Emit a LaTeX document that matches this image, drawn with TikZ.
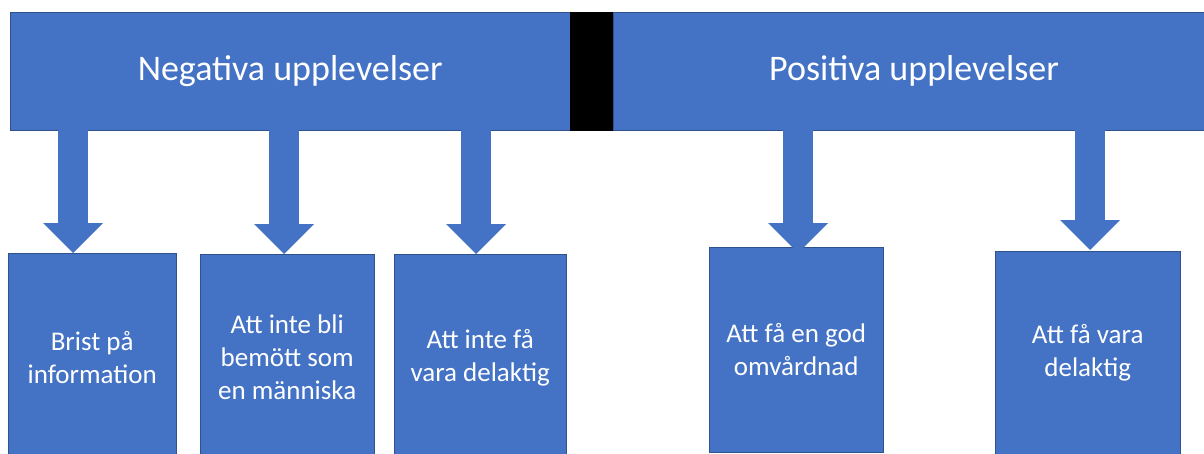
\documentclass[tikz,border=0pt]{standalone}
\usepackage{fontspec}
\setmainfont{Carlito}
\usetikzlibrary{arrows.meta,positioning,calc}
\definecolor{boxblue}{RGB}{68,114,196}
\definecolor{lineblue}{RGB}{47,82,143}

\begin{document}
\begin{tikzpicture}[x=1pt,y=-1pt,% one unit = one pixel of the page, y runs down
					every node/.style={
						align=center,		% so that "\\" breaks the lines
						text=white,
						inner sep=0pt
						},
					bar/.style={rectangle,draw=lineblue,fill=boxblue,minimum height=118pt,font=\fontsize{36}{43}\selectfont},
					theme/.style={rectangle,draw=lineblue,fill=boxblue,anchor=north west,font=\fontsize{27}{33}\selectfont},
					every edge/.style={draw=boxblue,line width=30pt,-{Triangle[width=60pt,length=30pt,line width=0pt]}}
					]
\useasboundingbox (0,0) rectangle (1204,453);
\clip (0,0) rectangle (1204,453);
\fill[white] (0,0) rectangle (1204,453);
% headings
\node[bar,minimum width=560pt,anchor=north west](Neg) at (10,12){Negativa upplevelser};
\node[bar,fill=black,draw=black,minimum width=42pt,right=0pt of Neg](Mid){};
\node[bar,minimum width=602pt,right=0pt of Mid](Pos){Positiva upplevelser};
% themes
\node[theme,minimum width=168pt,minimum height=208pt](N1) at (8,253){Brist på\\information};
\node[theme,minimum width=174pt,minimum height=207pt](N2) at (200,254){Att inte bli\\bemött som\\en människa};
\node[theme,minimum width=172pt,minimum height=207pt](N3) at (394,254){Att inte få\\vara delaktig};
\node[theme,minimum width=174pt,minimum height=205pt](P1) at (709,247){Att få en god\\omvårdnad};
\node[theme,minimum width=185pt,minimum height=204pt](P2) at (995,251){Att få vara\\delaktig};
% arrow tips
\coordinate (t1) at ([xshift=-19pt]N1.north);
\coordinate (t2) at ([xshift=-3pt]N2.north);
\coordinate (t3) at ([xshift=-4pt]N3.north);
\coordinate (t4) at ([shift={(2pt,-6pt)}]P1.north);
\coordinate (t5) at ([shift={(2.5pt,1pt)}]P2.north);
\path
(t1 |- Neg.south)edge []	node [] {} (t1)
(t2 |- Neg.south)edge []	node [] {} (t2)
(t3 |- Neg.south)edge []	node [] {} (t3)
(t4 |- Pos.south)edge []	node [] {} (t4)
(t5 |- Pos.south)edge []	node [] {} (t5)
;
\end{tikzpicture}
\end{document}
